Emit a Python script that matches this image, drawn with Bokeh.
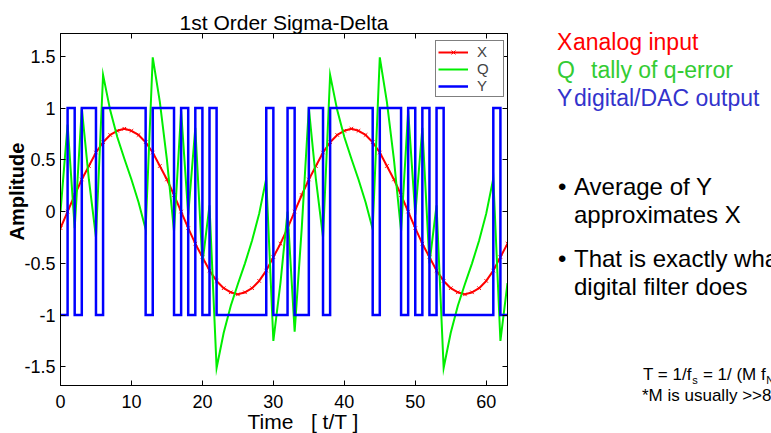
import html
from bokeh.plotting import figure
from bokeh.layouts import row
from bokeh.models import Range1d, LinearAxis, FixedTicker, Legend, LegendItem, Title, Div
from bokeh.embed import file_html
from bokeh.resources import INLINE

# ---------------- data ----------------
t = list(range(64))
X = [-0.16, 0.00, 0.16, 0.31, 0.44, 0.57, 0.67, 0.74, 0.78, 0.80, 0.78, 0.74, 0.67, 0.57, 0.44, 0.31,
     0.16, 0.00, -0.16, -0.31, -0.44, -0.57, -0.67, -0.74, -0.78, -0.80, -0.78, -0.74, -0.67, -0.57, -0.44, -0.31,
     -0.16, 0.00, 0.16, 0.31, 0.44, 0.57, 0.67, 0.74, 0.78, 0.80, 0.78, 0.74, 0.67, 0.57, 0.44, 0.31,
     0.16, 0.00, -0.16, -0.31, -0.44, -0.57, -0.67, -0.74, -0.78, -0.80, -0.78, -0.74, -0.67, -0.57, -0.44, -0.31]
Q = [0.00, 0.84, -0.16, 1.00, 0.31, -0.25, 1.32, 0.98, 0.72, 0.51, 0.31, 0.09, -0.17, 1.49, 1.06, 0.50,
     -0.19, 0.97, -0.03, 0.81, -0.50, 0.06, -1.51, -1.17, -0.91, -0.70, -0.50, -0.28, -0.02, 0.32, -1.25, -0.69,
     0.00, -1.16, -0.16, 1.00, 0.31, -0.25, 1.32, 0.98, 0.72, 0.51, 0.31, 0.09, -0.17, 1.49, 1.06, 0.50,
     -0.19, 0.97, -0.03, 0.81, -0.50, 0.06, -1.51, -1.17, -0.91, -0.70, -0.50, -0.28, -0.02, 0.32, -1.25, -0.69]
Y = [-1, 1, -1, 1, 1, -1, 1, 1, 1, 1, 1, 1, -1, 1, 1, 1,
     -1, 1, -1, 1, -1, 1, -1, -1, -1, -1, -1, -1, -1, 1, -1, -1,
     1, -1, -1, 1, 1, -1, 1, 1, 1, 1, 1, 1, -1, 1, 1, 1,
     -1, 1, -1, 1, -1, 1, -1, -1, -1, -1, -1, -1, -1, 1, -1, -1]
assert len(X) == len(Q) == len(Y) == len(t)

x_ticks = [0, 10, 20, 30, 40, 50, 60]
y_ticks = [-1.5, -1.0, -0.5, 0.0, 0.5, 1.0, 1.5]
y_tick_labels = ["-1.5", "-1", "-0.5", "0", "0.5", "1", "1.5"]

title_text = "1st Order Sigma-Delta"
xlabel_text = "Time \u00a0 [ t/T ]"
ylabel_text = "Amplitude"

# ---------------- layout ----------------
H = 433
W1 = 520            # chart part
W2 = 771 - W1       # text panel
FL, FR, FT, FB = 60, 507, 33, 385
XR = (0, 63)
YR = (-1.68, 1.72)
FONT = "Liberation Sans"

p = figure(width=W1, height=H, output_backend="svg", toolbar_location=None,
           x_range=Range1d(*XR), y_range=Range1d(*YR),
           min_border_left=FL, min_border_right=W1 - FR,
           min_border_top=FT, min_border_bottom=H - FB)
p.background_fill_color = "white"
p.border_fill_color = "white"
p.outline_line_color = "black"
p.outline_line_width = 1
p.grid.visible = False

p.title.text = title_text
p.title.align = "center"
p.title.text_font = FONT
p.title.text_font_size = "21px"
p.title.text_font_style = "normal"
p.title.text_color = "black"
p.title.standoff = 0

for ax in (p.xaxis[0], p.yaxis[0]):
    ax.major_tick_in = 5
    ax.major_tick_out = 0
    ax.minor_tick_in = 0
    ax.minor_tick_out = 0
    ax.axis_line_color = "black"
    ax.major_tick_line_color = "black"
    ax.major_label_text_font = FONT
    ax.major_label_text_font_size = "18px"
    ax.major_label_text_color = "black"
p.xaxis.major_label_standoff = 9
p.yaxis.major_label_standoff = 5

p.xaxis.ticker = FixedTicker(ticks=x_ticks)
p.yaxis.ticker = FixedTicker(ticks=y_ticks)
p.yaxis.major_label_overrides = {v: s for v, s in zip(y_ticks, y_tick_labels)}

for loc, ticks in (("above", x_ticks), ("right", y_ticks)):
    a = LinearAxis(ticker=FixedTicker(ticks=ticks), major_tick_in=5, major_tick_out=0,
                   minor_tick_in=0, minor_tick_out=0, axis_line_color="black",
                   major_label_standoff=0,
                   major_label_text_color=None, major_label_text_font_size="1px")
    p.add_layout(a, loc)

p.add_layout(Title(text=xlabel_text, align="left", offset=247 - FL, vertical_align="top",
                   standoff=-2, text_font=FONT, text_font_size="21px",
                   text_font_style="normal", text_color="black"), "below")
p.add_layout(Title(text=ylabel_text, align="left", offset=FB - 240, vertical_align="bottom",
                   standoff=-12, text_font=FONT, text_font_size="20px",
                   text_font_style="bold", text_color="black"), "left")

# ---------------- series ----------------
r_xl = p.line(t, X, line_color="red", line_width=2)
r_xm = p.scatter(t, X, marker="x", size=5, line_color="red", line_width=1)
r_q = p.line(t, Q, line_color="#00ee00", line_width=2, line_join="miter")
r_y = p.step(t, Y, mode="after", line_color="#0000ff", line_width=2.5, line_join="miter")

legend = Legend(items=[LegendItem(label="X", renderers=[r_xl, r_xm]),
                       LegendItem(label="Q", renderers=[r_q]),
                       LegendItem(label="Y", renderers=[r_y])],
                location=(375, 288), padding=2, spacing=-2, margin=0,
                glyph_width=30, glyph_height=14, label_height=14, label_width=24,
                label_standoff=9, label_text_font=FONT, label_text_font_size="15px",
                border_line_color="black", border_line_width=1,
                background_fill_color="white", background_fill_alpha=1)
p.add_layout(legend)

# ---------------- text panel (positions in page pixels, text baseline) ----------------
spans = []


def lab(text, px, py, size, color="black", lh=1.0):
    # place the baseline of the text at page pixel (px, py)
    top = py - ((lh - 1.117) / 2 + 0.905) * size
    spans.append(
        f'<span style="position:absolute;left:{px - W1:.1f}px;top:{top:.1f}px;'
        f'font-size:{size}px;line-height:{lh};color:{color};white-space:pre;">'
        f'{html.escape(text)}</span>')


RED, GREEN, BLUE = "#ff0000", "#33cc33", "#3333cc"
lab("X", 557, 50, 23, RED)
lab("analog input", 573, 50, 23, RED)
lab("Q", 557, 78, 23, GREEN)
lab("tally of q-error", 591, 78, 23, GREEN)
lab("Y", 557, 106, 23, BLUE)
lab("digital/DAC output", 574, 106, 23, BLUE)

lab("\u2022", 558, 195, 24)
lab("Average of Y", 574, 195, 24)
lab("approximates X", 574, 223, 24)
lab("\u2022", 558, 267, 24)
lab("That is exactly what a", 574, 267, 24)
lab("digital filter does", 574, 295, 24)

# T = 1/f_s = 1/ (M f_N)   (Liberation Sans advance widths, in em)
F1, FS = 17, 11
w_a = 2.863 * F1          # "T = 1/f"
w_s = 0.500 * FS          # "s"
w_b = 3.974 * F1          # " = 1/ (M f"
x0 = 643
lab("T = 1/f", x0, 381, F1, lh=0.8)
lab("s", x0 + w_a + 0.5, 384, FS, lh=0.8)
lab(" = 1/ (M f", x0 + w_a + w_s + 1, 381, F1, lh=0.8)
lab("N)", x0 + w_a + w_s + w_b + 1.5, 384, FS, lh=0.8)
lab("*M is usually >>8", 642, 402, F1, lh=0.8)

div = Div(text=(f'<div style="position:relative;width:{W2}px;height:{H}px;overflow:hidden;'
                f'background:white;font-family:\'{FONT}\';">' + "".join(spans) + '</div>'),
          width=W2, height=H, margin=0)

open("out.html", "w").write(file_html(row(p, div), INLINE))
